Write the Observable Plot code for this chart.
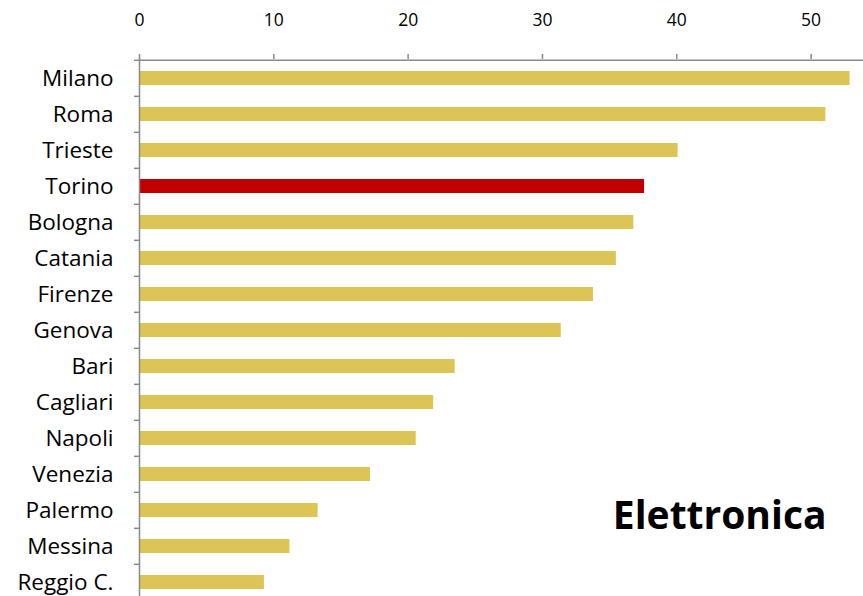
<!DOCTYPE html>
<html><head><meta charset="utf-8">
<script src="https://cdn.jsdelivr.net/npm/d3@7"></script>
<script src="https://cdn.jsdelivr.net/npm/@observablehq/plot@0.6"></script>
<style>
html,body{margin:0;padding:0;background:#fff;overflow:hidden;}
#chart{width:863px;height:596px;overflow:hidden;}
</style>
</head><body>
<div id="chart"></div>
<script>
const cities = ["Milano","Roma","Trieste","Torino","Bologna","Catania","Firenze","Genova","Bari","Cagliari","Napoli","Venezia","Palermo","Messina","Reggio C."];
const values = [52.9,51.1,40.1,37.6,36.8,35.5,33.8,31.4,23.5,21.9,20.6,17.2,13.3,11.2,9.3];
const highlight = "Torino";
const xTicks = [0,10,20,30,40,50];
const title = "Elettronica";

const data = cities.map((c,i)=>({city:c, value:values[i]}));
const H = 603, MT = 58;
const step = (H - MT) / cities.length;
const gray = "#898989";

const chart = Plot.plot({
  width: 863, height: H, marginTop: MT, marginLeft: 139, marginRight: 0, marginBottom: 0,
  style: {fontFamily: "'Open Sans', sans-serif", background: "#fff", color: "#000", overflow: "visible"},
  x: {domain: [0, 53.9], axis: null, label: null},
  y: {domain: cities, paddingInner: 0.6, paddingOuter: 0.3, axis: null, label: null},
  marks: [
    Plot.barX(data, {x: "value", y: "city", fill: d => d.city === highlight ? "#c00000" : "#dcc455"}),
    Plot.ruleX([0], {stroke: gray, strokeWidth: 1.5}),
    Plot.ruleY([cities[0]], {dy: -step/2, stroke: gray, strokeWidth: 1.5}),
    Plot.axisY({ticks: cities, tickFormat: () => "", label: null, tickSize: 5, dy: -step/2, stroke: gray, strokeWidth: 1.5, strokeOpacity: 1}),
    Plot.axisY({tickSize: 0, tickPadding: 26, fontSize: 22.5, fill: "#000", label: null}),
    Plot.axisX({anchor: "top", ticks: xTicks, label: null, tickSize: 5, tickPadding: 28, fontSize: 17.5, stroke: gray, strokeWidth: 1.5, strokeOpacity: 1, fill: "#000"}),
    Plot.text([title], {frameAnchor: "bottom-right", dx: -37, dy: -75, fontSize: 39, fontWeight: "bold", textAnchor: "end", fill: "#000"})
  ]
});
document.getElementById("chart").appendChild(chart);
</script>
</body></html>
